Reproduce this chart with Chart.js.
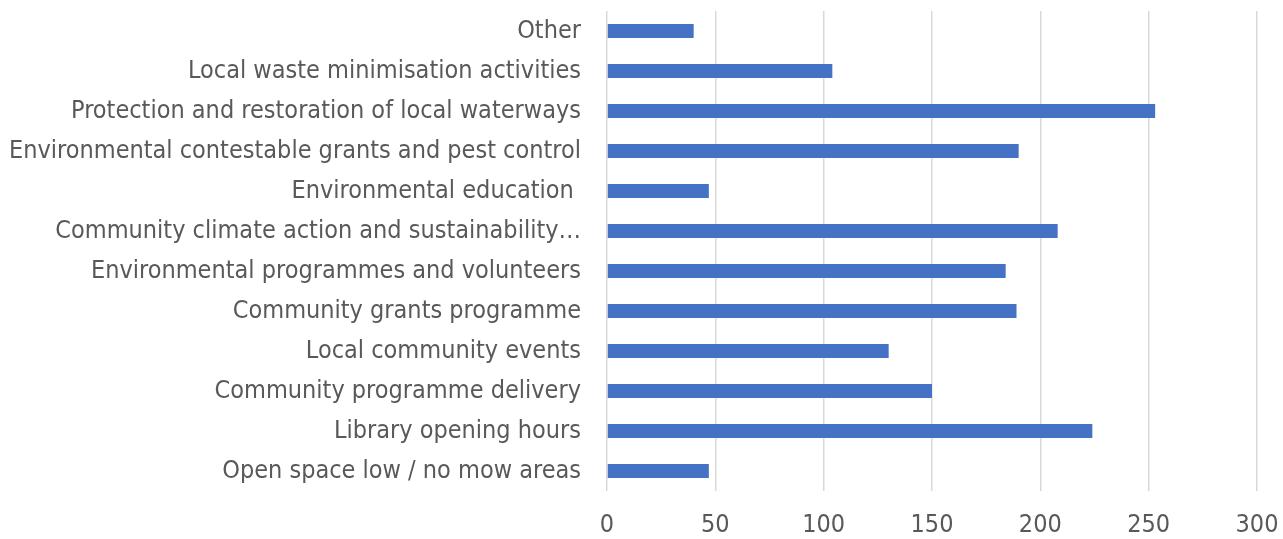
<!DOCTYPE html>
<html>
<head>
<meta charset="utf-8">
<script src="https://cdn.jsdelivr.net/npm/chart.js@4"></script>
<style>
  html, body { margin: 0; padding: 0; background: #fff; }
  .chart-container { width: 1283px; height: 539px; }
</style>
</head>
<body>
<div class="chart-container">
  <canvas id="chart" width="1283" height="539"></canvas>
</div>
<script>
const categories = [
  "Other",
  "Local waste minimisation activities",
  "Protection and restoration of local waterways",
  "Environmental contestable grants and pest control",
  "Environmental education ",
  "Community climate action and sustainability…",
  "Environmental programmes and volunteers",
  "Community grants programme",
  "Local community events",
  "Community programme delivery",
  "Library opening hours",
  "Open space low / no mow areas",
];
const responses = [40, 104, 253, 190, 47, 208, 184, 189, 130, 150, 224, 47];
const xTicks = [0, 50, 100, 150, 200, 250, 300];

const textColor = "#595959";
const fontFamily = "'Liberation Sans Narrow', 'DejaVu Sans Condensed', sans-serif";

new Chart(document.getElementById("chart"), {
  type: "bar",
  data: {
    labels: categories,
    datasets: [
      {
        data: responses,
        backgroundColor: "#4472C4",
        borderWidth: 0,
        categoryPercentage: 1.0,
        barPercentage: 0.35,
      },
    ],
  },
  options: {
    indexAxis: "y",
    responsive: false,
    animation: false,
    layout: {
      padding: { top: 11, right: 26, bottom: 0, left: 0 },
    },
    plugins: {
      legend: { display: false },
      tooltip: { enabled: false },
    },
    scales: {
      x: {
        min: 0,
        max: 300,
        afterBuildTicks: (scale) => {
          scale.ticks = xTicks.map((v) => ({ value: v }));
        },
        afterFit: (scale) => {
          scale.height = 48;
          scale.paddingLeft = 0;
          scale.paddingRight = 0;
        },
        grid: {
          color: "#d9d9d9",
          lineWidth: 1.5,
          drawTicks: false,
        },
        border: { display: false },
        ticks: {
          color: textColor,
          padding: 19,
          font: { family: fontFamily, size: 25 },
        },
      },
      y: {
        afterFit: (scale) => {
          scale.width = 607;
          scale.paddingTop = 0;
          scale.paddingBottom = 0;
        },
        grid: { display: false, drawTicks: false },
        border: { display: false },
        ticks: {
          color: textColor,
          padding: 26,
          autoSkip: false,
          font: { family: fontFamily, size: 25 },
        },
      },
    },
  },
});
</script>
</body>
</html>
